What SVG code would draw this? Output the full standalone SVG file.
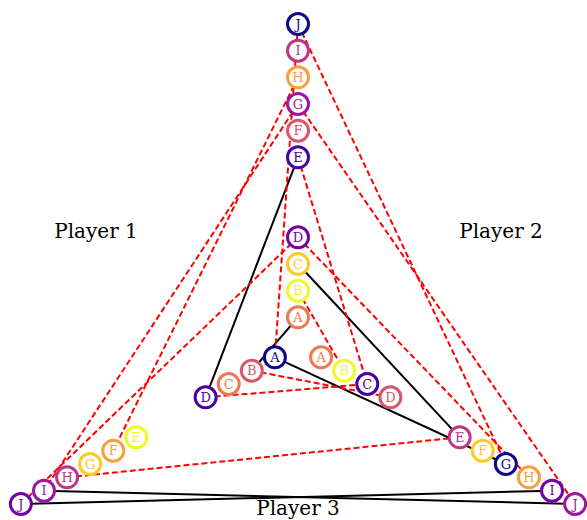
<svg xmlns="http://www.w3.org/2000/svg" width="587" height="520" viewBox="0 0 587 520">
<style>
.n circle{fill:#fff;stroke-width:3}
.n text{font-family:"DejaVu Serif",serif;font-size:13px;text-anchor:middle;dominant-baseline:central}
.s{stroke:#000;stroke-width:2;fill:none}
.d{stroke:#ff0000;stroke-width:2;stroke-dasharray:6,3;fill:none}
.lbl{font-family:"DejaVu Serif",serif;font-size:20px;text-anchor:middle;fill:#000}
.c0 circle{stroke:#0d0887}.c0 text{fill:#0d0887}
.c1 circle{stroke:#46039f}.c1 text{fill:#46039f}
.c2 circle{stroke:#7201a8}.c2 text{fill:#7201a8}
.c3 circle{stroke:#9c179e}.c3 text{fill:#9c179e}
.c4 circle{stroke:#bd3786}.c4 text{fill:#bd3786}
.c5 circle{stroke:#d8576b}.c5 text{fill:#d8576b}
.c6 circle{stroke:#ed7953}.c6 text{fill:#ed7953}
.c7 circle{stroke:#fb9f3a}.c7 text{fill:#fb9f3a}
.c8 circle{stroke:#fdca26}.c8 text{fill:#fdca26}
.c9 circle{stroke:#f0f921}.c9 text{fill:#f0f921}
</style>
<g id="edges">
<line class="s" x1="298" y1="157.33" x2="205.62" y2="397.33"/>
<line class="s" x1="298" y1="264" x2="459.66" y2="437.33"/>
<line class="s" x1="298" y1="317.33" x2="251.81" y2="370.67"/>
<line class="s" x1="274.91" y1="357.33" x2="505.85" y2="464"/>
<line class="s" x1="43.97" y1="490.67" x2="575.13" y2="504"/>
<line class="s" x1="20.87" y1="504" x2="552.03" y2="490.67"/>
<line class="d" x1="298" y1="24" x2="505.85" y2="464"/>
<line class="d" x1="298" y1="104" x2="575.13" y2="504"/>
<line class="d" x1="298" y1="237.33" x2="528.94" y2="477.33"/>
<line class="d" x1="298" y1="104" x2="43.97" y2="490.67"/>
<line class="d" x1="298" y1="77.33" x2="113.25" y2="450.67"/>
<line class="d" x1="298" y1="237.33" x2="20.87" y2="504"/>
<line class="d" x1="298" y1="24" x2="274.91" y2="357.33"/>
<line class="d" x1="298" y1="157.33" x2="367.28" y2="384"/>
<line class="d" x1="298" y1="290.67" x2="344.19" y2="370.67"/>
<line class="d" x1="251.81" y1="370.67" x2="390.38" y2="397.33"/>
<line class="d" x1="205.62" y1="397.33" x2="367.28" y2="384"/>
<line class="d" x1="67.06" y1="477.33" x2="459.66" y2="437.33"/>
</g>
<g id="t_J" class="n c0"><circle cx="298" cy="24" r="10.5"/><text x="298" y="24">J</text></g>
<g id="t_I" class="n c4"><circle cx="298" cy="50.67" r="10.5"/><text x="298" y="50.67">I</text></g>
<g id="t_H" class="n c7"><circle cx="298" cy="77.33" r="10.5"/><text x="298" y="77.33">H</text></g>
<g id="t_G" class="n c3"><circle cx="298" cy="104" r="10.5"/><text x="298" y="104">G</text></g>
<g id="t_F" class="n c5"><circle cx="298" cy="130.67" r="10.5"/><text x="298" y="130.67">F</text></g>
<g id="t_E" class="n c1"><circle cx="298" cy="157.33" r="10.5"/><text x="298" y="157.33">E</text></g>
<g id="t_D" class="n c2"><circle cx="298" cy="237.33" r="10.5"/><text x="298" y="237.33">D</text></g>
<g id="t_C" class="n c8"><circle cx="298" cy="264" r="10.5"/><text x="298" y="264">C</text></g>
<g id="t_B" class="n c9"><circle cx="298" cy="290.67" r="10.5"/><text x="298" y="290.67">B</text></g>
<g id="t_A" class="n c6"><circle cx="298" cy="317.33" r="10.5"/><text x="298" y="317.33">A</text></g>
<g id="l_A" class="n c0"><circle cx="274.91" cy="357.33" r="10.5"/><text x="274.91" y="357.33">A</text></g>
<g id="l_B" class="n c5"><circle cx="251.81" cy="370.67" r="10.5"/><text x="251.81" y="370.67">B</text></g>
<g id="l_C" class="n c6"><circle cx="228.72" cy="384" r="10.5"/><text x="228.72" y="384">C</text></g>
<g id="l_D" class="n c1"><circle cx="205.62" cy="397.33" r="10.5"/><text x="205.62" y="397.33">D</text></g>
<g id="l_E" class="n c9"><circle cx="136.34" cy="437.33" r="10.5"/><text x="136.34" y="437.33">E</text></g>
<g id="l_F" class="n c7"><circle cx="113.25" cy="450.67" r="10.5"/><text x="113.25" y="450.67">F</text></g>
<g id="l_G" class="n c8"><circle cx="90.15" cy="464" r="10.5"/><text x="90.15" y="464">G</text></g>
<g id="l_H" class="n c4"><circle cx="67.06" cy="477.33" r="10.5"/><text x="67.06" y="477.33">H</text></g>
<g id="l_I" class="n c3"><circle cx="43.97" cy="490.67" r="10.5"/><text x="43.97" y="490.67">I</text></g>
<g id="l_J" class="n c2"><circle cx="20.87" cy="504" r="10.5"/><text x="20.87" y="504">J</text></g>
<g id="r_A" class="n c6"><circle cx="321.09" cy="357.33" r="10.5"/><text x="321.09" y="357.33">A</text></g>
<g id="r_B" class="n c9"><circle cx="344.19" cy="370.67" r="10.5"/><text x="344.19" y="370.67">B</text></g>
<g id="r_C" class="n c1"><circle cx="367.28" cy="384" r="10.5"/><text x="367.28" y="384">C</text></g>
<g id="r_D" class="n c5"><circle cx="390.38" cy="397.33" r="10.5"/><text x="390.38" y="397.33">D</text></g>
<g id="r_E" class="n c4"><circle cx="459.66" cy="437.33" r="10.5"/><text x="459.66" y="437.33">E</text></g>
<g id="r_F" class="n c8"><circle cx="482.75" cy="450.67" r="10.5"/><text x="482.75" y="450.67">F</text></g>
<g id="r_G" class="n c0"><circle cx="505.85" cy="464" r="10.5"/><text x="505.85" y="464">G</text></g>
<g id="r_H" class="n c7"><circle cx="528.94" cy="477.33" r="10.5"/><text x="528.94" y="477.33">H</text></g>
<g id="r_I" class="n c2"><circle cx="552.03" cy="490.67" r="10.5"/><text x="552.03" y="490.67">I</text></g>
<g id="r_J" class="n c3"><circle cx="575.13" cy="504" r="10.5"/><text x="575.13" y="504">J</text></g>
<g id="labels">
<text class="lbl" x="96" y="238">Player 1</text>
<text class="lbl" x="501" y="238">Player 2</text>
<text class="lbl" x="298" y="515">Player 3</text>
</g>
</svg>
